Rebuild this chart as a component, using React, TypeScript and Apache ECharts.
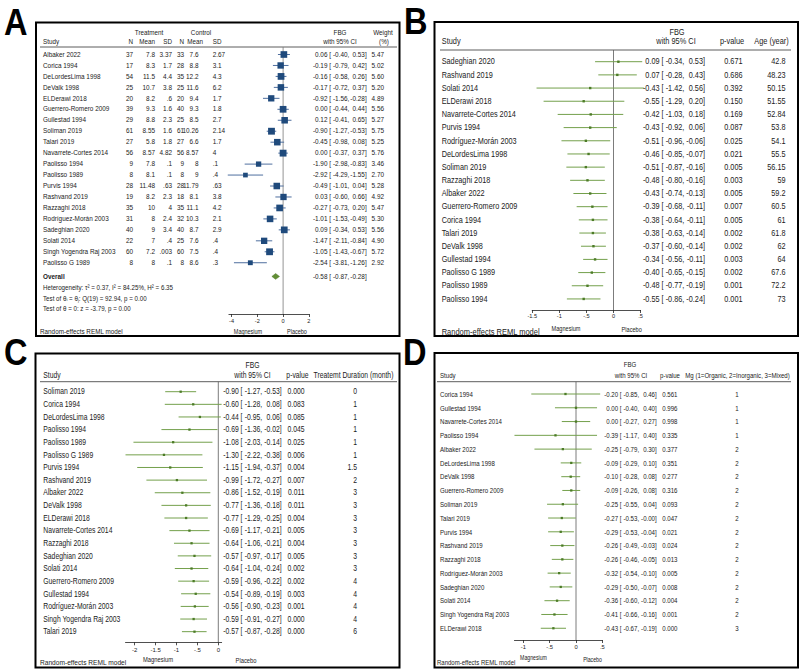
import React, { useEffect, useRef } from "react";
import * as echarts from "echarts";

// ================= Panel A (forest plot, standardized mean difference) =================
const studiesA = ["Albaker 2022", "Corica 1994", "DeLordesLima 1998", "DeValk 1998", "ELDerawi 2018", "Guerrero-Romero 2009", "Gullestad 1994", "Soliman 2019", "Talari 2019", "Navarrete-Cortes 2014", "Paolisso 1994", "Paolisso 1989", "Purvis 1994", "Rashvand 2019", "Razzaghi 2018", "Rodríguez-Morán 2003", "Sadeghian 2020", "Solati 2014", "Singh Yogendra Raj 2003", "Paolisso G 1989"];
const nT = [37, 17, 54, 25, 20, 39, 29, 61, 27, 56, 9, 8, 28, 19, 35, 31, 40, 22, 60, 8];
const meanT = [7.8, 8.3, 11.5, 10.7, 8.2, 9.3, 8.8, 8.55, 5.8, 8.57, 7.8, 8.1, 11.48, 8.2, 10, 8, 9, 7, 7.2, 8];
const sdT = [3.37, 1.7, 4.4, 3.8, 0.6, 1.6, 2.3, 1.6, 1.8, 4.82, 0.1, 0.1, 0.63, 2.3, 4, 2.4, 3.4, 0.4, 0.003, 0.1];
const nC = [33, 28, 35, 25, 20, 40, 25, 61, 27, 56, 9, 8, 28, 18, 35, 32, 40, 25, 60, 8];
const meanC = [7.6, 8.8, 12.2, 11.6, 9.4, 9.3, 8.5, 10.26, 6.6, 8.57, 8, 9, 11.79, 8.1, 11.1, 10.3, 8.7, 7.6, 7.5, 8.6];
const sdC = [2.67, 3.1, 4.3, 6.2, 1.7, 1.8, 2.7, 2.14, 1.7, 4, 0.1, 0.4, 0.63, 3.8, 4.2, 2.1, 2.9, 0.4, 0.4, 0.3];
const esA = [0.06, -0.19, -0.16, -0.17, -0.92, 0.0, 0.12, -0.9, -0.45, 0.0, -1.9, -2.92, -0.49, 0.03, -0.27, -1.01, 0.09, -1.47, -1.05, -2.54];
const loA = [-0.4, -0.79, -0.58, -0.72, -1.56, -0.44, -0.41, -1.27, -0.98, -0.37, -2.98, -4.29, -1.01, -0.6, -0.73, -1.53, -0.34, -2.11, -1.43, -3.81];
const hiA = [0.53, 0.42, 0.26, 0.37, -0.28, 0.44, 0.65, -0.53, 0.08, 0.37, -0.83, -1.55, 0.04, 0.66, 0.2, -0.49, 0.53, -0.84, -0.67, -1.26];
const weightA = [5.47, 5.02, 5.6, 5.2, 4.89, 5.56, 5.27, 5.75, 5.25, 5.76, 3.46, 2.7, 5.28, 4.92, 5.47, 5.3, 5.56, 4.9, 5.72, 2.92];
const overallA = [-0.58, -0.87, -0.28];
const hetLinesA = [
  "Heterogeneity: τ² = 0.37, I² = 84.25%, H² = 6.35",
  "Test of θᵢ = θⱼ: Q(19) = 92.94, p = 0.00",
  "Test of θ = 0: z = -3.79, p = 0.00",
];
const ticksA = [-4, -2, 0, 2];

// ================= Panel B (by age) =================
const studiesB = ["Sadeghian 2020", "Rashvand 2019", "Solati 2014", "ELDerawi 2018", "Navarrete-Cortes 2014", "Purvis 1994", "Rodríguez-Morán 2003", "DeLordesLima 1998", "Soliman 2019", "Razzaghi 2018", "Albaker 2022", "Guerrero-Romero 2009", "Corica 1994", "Talari 2019", "DeValk 1998", "Gullestad 1994", "Paolisso G 1989", "Paolisso 1989", "Paolisso 1994"];
const esB = [0.09, 0.07, -0.43, -0.55, -0.42, -0.43, -0.51, -0.46, -0.51, -0.48, -0.43, -0.39, -0.38, -0.38, -0.37, -0.34, -0.4, -0.48, -0.55];
const loB = [-0.34, -0.28, -1.42, -1.29, -1.03, -0.92, -0.96, -0.85, -0.87, -0.8, -0.74, -0.68, -0.64, -0.63, -0.6, -0.56, -0.65, -0.77, -0.86];
const hiB = [0.53, 0.43, 0.56, 0.2, 0.18, 0.06, -0.06, -0.07, -0.16, -0.16, -0.13, -0.11, -0.11, -0.14, -0.14, -0.11, -0.15, -0.19, -0.24];
const pB = [0.671, 0.686, 0.392, 0.15, 0.169, 0.087, 0.025, 0.021, 0.005, 0.003, 0.005, 0.007, 0.005, 0.002, 0.002, 0.003, 0.002, 0.001, 0.001];
const ageB = [42.8, 48.23, 50.15, 51.55, 52.84, 53.8, 54.1, 55.5, 56.15, 59, 59.2, 60.5, 61, 61.8, 62, 64, 67.6, 72.2, 73];
const ticksB = [-1.5, -1, -0.5, 0, 0.5];

// ================= Panel C (by treatment duration) =================
const studiesC = ["Soliman 2019", "Corica 1994", "DeLordesLima 1998", "Paolisso 1994", "Paolisso 1989", "Paolisso G 1989", "Purvis 1994", "Rashvand 2019", "Albaker 2022", "DeValk 1998", "ELDerawi 2018", "Navarrete-Cortes 2014", "Razzaghi 2018", "Sadeghian 2020", "Solati 2014", "Guerrero-Romero 2009", "Gullestad 1994", "Rodríguez-Morán 2003", "Singh Yogendra Raj 2003", "Talari 2019"];
const esC = [-0.9, -0.6, -0.44, -0.69, -1.08, -1.3, -1.15, -0.99, -0.86, -0.77, -0.77, -0.69, -0.64, -0.57, -0.64, -0.59, -0.54, -0.56, -0.59, -0.57];
const loC = [-1.27, -1.28, -0.95, -1.36, -2.03, -2.22, -1.94, -1.72, -1.52, -1.36, -1.29, -1.17, -1.06, -0.97, -1.04, -0.96, -0.89, -0.9, -0.91, -0.87];
const hiC = [-0.53, 0.08, 0.06, -0.02, -0.14, -0.38, -0.37, -0.27, -0.19, -0.18, -0.25, -0.21, -0.21, -0.17, -0.24, -0.22, -0.19, -0.23, -0.27, -0.28];
const pC = [0.0, 0.083, 0.085, 0.045, 0.025, 0.006, 0.004, 0.007, 0.011, 0.011, 0.004, 0.005, 0.004, 0.005, 0.002, 0.002, 0.003, 0.001, 0.0, 0.0];
const durationC = [0, 1, 1, 1, 1, 1, 1.5, 2, 3, 3, 3, 3, 3, 3, 3, 4, 4, 4, 4, 6];
const ticksC = [-2, -1.5, -1, -0.5, 0];

// ================= Panel D (by magnesium type) =================
const studiesD = ["Corica 1994", "Gullestad 1994", "Navarrete-Cortes 2014", "Paolisso 1994", "Albaker 2022", "DeLordesLima 1998", "DeValk 1998", "Guerrero-Romero 2009", "Soliman 2019", "Talari 2019", "Purvis 1994", "Rashvand 2019", "Razzaghi 2018", "Rodríguez-Morán 2003", "Sadeghian 2020", "Solati 2014", "Singh Yogendra Raj 2003", "ELDerawi 2018"];
const esD = [-0.2, 0.0, 0.0, -0.39, -0.25, -0.09, -0.1, -0.09, -0.25, -0.27, -0.29, -0.26, -0.26, -0.32, -0.29, -0.36, -0.41, -0.43];
const loD = [-0.85, -0.4, -0.27, -1.17, -0.79, -0.29, -0.28, -0.26, -0.55, -0.53, -0.53, -0.49, -0.46, -0.54, -0.5, -0.6, -0.66, -0.67];
const hiD = [0.46, 0.4, 0.27, 0.4, 0.3, 0.1, 0.08, 0.08, 0.04, -0.004, -0.04, -0.03, -0.05, -0.1, -0.07, -0.12, -0.16, -0.19];
const pD = [0.561, 0.996, 0.998, 0.335, 0.377, 0.351, 0.277, 0.316, 0.093, 0.047, 0.021, 0.024, 0.013, 0.005, 0.008, 0.004, 0.001, 0.0];
const mgD = [1, 1, 1, 1, 2, 2, 2, 2, 2, 2, 2, 2, 2, 2, 2, 2, 2, 3];
const ticksD = [-1, -0.5, 0, 0.5];

// ================= styling / layout =================
const INK = "#1b1b1b";
const BLUE_M = "#1f4a7c";
const BLUE_L = "#4f6f9f";
const GREEN_M = "#4c7b26";
const GREEN_L = "#74a04c";
const DIAMOND = "#628f34";
const WIDE = "'Liberation Sans', Arial, Helvetica, sans-serif";

function hasFont(name: string) {
  try {
    const c = document.createElement("canvas").getContext("2d");
    if (!c) return false;
    const s = "Albaker 2022 mmmWWWiii";
    c.font = "40px monospace";
    const a = c.measureText(s).width;
    c.font = `40px '${name}', monospace`;
    const b = c.measureText(s).width;
    return Math.abs(a - b) > 0.5;
  } catch (e) {
    return false;
  }
}

const f2 = (v: number) => v.toFixed(2);
const num = (v: number) => String(v).replace(/^0\./, ".");
const tickFmt = (v: number) => String(v).replace(/^(-?)0\./, "$1.");

type Lay = { row0: number; dy: number; top: number; bottom: number; xmin: number; xmax: number; zeroX: number; ppu: number };
const LAY: Record<string, Lay> = {
  A: { row0: 54.5, dy: 10.96, top: 47, bottom: 314, xmin: -4.2, xmax: 2, zeroX: 283.1, ppu: 12.9 },
  B: { row0: 61.7, dy: 13.18, top: 50, bottom: 310, xmin: -1.5, xmax: 0.5, zeroX: 613.5, ppu: 54.2 },
  C: { row0: 391.7, dy: 12.63, top: 381.7, bottom: 642.3, xmin: -2.22, xmax: 0.08, zeroX: 218.3, ppu: 41.8 },
  D: { row0: 394, dy: 13.78, top: 381.7, bottom: 640, xmin: -1.17, xmax: 0.5, zeroX: 576, ppu: 52.6 },
};
const OVERALL_ROW = 20.25;

function buildOption() {
  const narrow = hasFont("Liberation Sans Narrow");
  const FAM = narrow ? "'Liberation Sans Narrow', 'Liberation Sans', Arial, sans-serif" : WIDE;
  // narrow look: either a narrow face, or the regular face squeezed horizontally
  const SX = narrow ? 1 : 0.82;
  const K = 1 / 0.82;
  const FS = (a: number) => Math.round(a * K * 100) / 100;

  const T = (x: number, y: number, text: string, size: number, align = "left", weight = "normal", fam = FAM, fill = INK, sx = SX) => ({
    type: "text",
    x,
    y,
    scaleX: sx,
    scaleY: 1,
    originX: 0,
    originY: 0,
    silent: true,
    style: { text, fontSize: size, fontFamily: fam, fontWeight: weight, fill, align, verticalAlign: "middle", textAlign: align, textVerticalAlign: "middle" },
  });
  const L = (x1: number, y1: number, x2: number, y2: number, stroke: string, w: number) => ({
    type: "line",
    silent: true,
    shape: { x1, y1, x2, y2 },
    style: { stroke, lineWidth: w },
  });
  const box = (x1: number, y1: number, x2: number, y2: number) => ({
    type: "rect",
    silent: true,
    shape: { x: x1, y: y1, width: x2 - x1, height: y2 - y1 },
    style: { fill: "none", stroke: "#000", lineWidth: 2 },
    z: 10,
  });

  const keys = ["A", "B", "C", "D"];
  const ticks: Record<string, number[]> = { A: ticksA, B: ticksB, C: ticksC, D: ticksD };
  const tickFs: Record<string, number> = { A: 5.6, B: 5.6, C: 6.0, D: 5.8 };
  const tickMargin: Record<string, number> = { A: 3.5, B: 3, C: 4.5, D: 4 };

  const grid = keys.map((k) => {
    const l = LAY[k];
    return { left: l.zeroX + l.xmin * l.ppu, width: (l.xmax - l.xmin) * l.ppu, top: l.top, height: l.bottom - l.top, containLabel: false };
  });
  const xAxis = keys.map((k, i) => {
    const l = LAY[k];
    return {
      type: "value",
      gridIndex: i,
      min: l.xmin,
      max: l.xmax,
      axisLine: { show: true, onZero: false, lineStyle: { color: "#222", width: 0.8 } },
      axisTick: { show: true, length: 3, lineStyle: { color: "#222", width: 0.8 }, customValues: ticks[k] },
      axisLabel: { customValues: ticks[k], formatter: tickFmt, fontSize: tickFs[k], fontFamily: WIDE, color: INK, margin: tickMargin[k] },
      splitLine: { show: false },
    };
  });
  const yMin = (k: string) => (LAY[k].top - LAY[k].row0) / LAY[k].dy;
  const yMax = (k: string) => (LAY[k].bottom - LAY[k].row0) / LAY[k].dy;
  const yAxis = keys.map((k, i) => ({ type: "value", gridIndex: i, inverse: true, min: yMin(k), max: yMax(k), show: false }));

  const zeroSeries = keys.map((k, i) => ({
    type: "line",
    xAxisIndex: i,
    yAxisIndex: i,
    data: [
      [0, yMin(k)],
      [0, yMax(k)],
    ],
    symbol: "none",
    silent: true,
    z: 1,
    lineStyle: { color: k === "A" ? "#7a7a7a" : "#5a5a5a", width: 0.8 },
  }));

  // ---- Panel A renderer ----
  const fA = FS(6.4);
  const renderA = (params: any, api: any) => {
    const i = params.dataIndex;
    const row = api.value(1);
    const a = api.coord([loA[i], row]);
    const b = api.coord([hiA[i], row]);
    const m = api.coord([esA[i], row]);
    const y = m[1];
    const s = 2.85 * Math.sqrt(weightA[i]);
    return {
      type: "group",
      children: [
        L(a[0], y, b[0], y, BLUE_L, 1),
        { type: "rect", shape: { x: m[0] - s / 2, y: y - s / 2, width: s, height: s }, style: { fill: BLUE_M } },
        T(43, y, studiesA[i], fA),
        T(133, y, String(nT[i]), fA, "right"),
        T(155, y, num(meanT[i]), fA, "right"),
        T(172, y, num(sdT[i]), fA, "right"),
        T(184, y, String(nC[i]), fA, "right"),
        T(198.5, y, num(meanC[i]), fA, "right"),
        T(212.7, y, num(sdC[i]), fA, "left"),
        T(331, y, f2(esA[i]) + " [", fA, "right"),
        T(349.3, y, f2(loA[i]) + ",", fA, "right"),
        T(366.7, y, f2(hiA[i]) + "]", fA, "right"),
        T(384, y, weightA[i].toFixed(2), fA, "right"),
      ],
    };
  };
  const renderOverall = (params: any, api: any) => {
    const row = api.value(1);
    const a = api.coord([overallA[1], row]);
    const b = api.coord([overallA[2], row]);
    const m = api.coord([overallA[0], row]);
    const y = m[1];
    const h = 2.9;
    return {
      type: "group",
      children: [
        { type: "polygon", shape: { points: [[a[0], y], [m[0], y - h], [b[0], y], [m[0], y + h]] }, style: { fill: DIAMOND, stroke: "#4d7526", lineWidth: 0.5 } },
        T(43, y, "Overall", fA, "left", "bold"),
        T(331, y, f2(overallA[0]) + " [", fA, "right"),
        T(349.3, y, f2(overallA[1]) + ",", fA, "right"),
        T(366.7, y, f2(overallA[2]) + "]", fA, "right"),
      ],
    };
  };

  // ---- generic renderer for B, C, D ----
  type Cols = { studyX: number; esX: number; loX: number; hiX: number; pX: number; lastX: number; lastAlign: string; fs: number; mk: number };
  const makeRender = (st: string[], es: number[], lo: number[], hi: number[], p: number[], last: number[], c: Cols) => (params: any, api: any) => {
    const i = params.dataIndex;
    const row = api.value(1);
    const a = api.coord([lo[i], row]);
    const b = api.coord([hi[i], row]);
    const m = api.coord([es[i], row]);
    const y = m[1];
    const s = c.mk;
    return {
      type: "group",
      children: [
        L(a[0], y, b[0], y, GREEN_L, 1),
        { type: "rect", shape: { x: m[0] - s / 2, y: y - s / 2, width: s, height: s }, style: { fill: GREEN_M } },
        T(c.studyX, y, st[i], c.fs),
        T(c.esX, y, f2(es[i]) + " [", c.fs, "right"),
        T(c.loX, y, f2(lo[i]) + ",", c.fs, "right"),
        T(c.hiX, y, f2(hi[i]) + "]", c.fs, "right"),
        T(c.pX, y, p[i].toFixed(3), c.fs, "right"),
        T(c.lastX, y, String(last[i]), c.fs, c.lastAlign),
      ],
    };
  };
  const fB = FS(7.3);
  const fC = FS(6.8);
  const fD = FS(6.1);
  const renderB = makeRender(studiesB, esB, loB, hiB, pB, ageB, { studyX: 441.7, esX: 663.6, loX: 684.3, hiX: 705, pX: 742.5, lastX: 785.5, lastAlign: "right", fs: fB, mk: 2.4 });
  const renderC = makeRender(studiesC, esC, loC, hiC, pC, durationC, { studyX: 43.3, esX: 242.5, loX: 262.1, hiX: 281.7, pX: 304.5, lastX: 357, lastAlign: "right", fs: fC, mk: 2.3 });
  const renderD = makeRender(studiesD, esD, loD, hiD, pD, mgD, { studyX: 440, esX: 621.5, loX: 639.1, hiX: 656.7, pX: 677.5, lastX: 737, lastAlign: "center", fs: fD, mk: 2.3 });

  const custom = (idx: number, data: number[][], renderItem: any) => ({
    type: "custom",
    xAxisIndex: idx,
    yAxisIndex: idx,
    coordinateSystem: "cartesian2d",
    clip: false,
    silent: true,
    z: 3,
    encode: { x: 0, y: 1 },
    data,
    renderItem,
  });

  const series: any[] = [
    ...zeroSeries,
    custom(0, studiesA.map((_, i) => [esA[i], i]), renderA),
    custom(0, [[overallA[0], OVERALL_ROW]], renderOverall),
    custom(1, studiesB.map((_, i) => [esB[i], i]), renderB),
    custom(2, studiesC.map((_, i) => [esC[i], i]), renderC),
    custom(3, studiesD.map((_, i) => [esD[i], i]), renderD),
  ];

  // ---- static graphics ----
  const g: any[] = [];
  g.push(box(36, 22.5, 399.5, 336));
  g.push(box(434.5, 22, 798, 336));
  g.push(box(35.5, 353.5, 399.5, 667.5));
  g.push(box(434.5, 353, 798, 667.5));
  g.push(T(4, 22, "A", 37, "left", "bold", WIDE, "#000", 0.88));
  g.push(T(404, 21, "B", 37, "left", "bold", WIDE, "#000", 0.88));
  g.push(T(4, 352, "C", 37, "left", "bold", WIDE, "#000", 0.88));
  g.push(T(403, 352, "D", 37, "left", "bold", WIDE, "#000", 0.88));

  // header underlines
  g.push(L(40, 47, 397, 47, "#333", 0.8));
  g.push(L(440, 50, 791, 50, "#333", 0.8));
  g.push(L(40, 381.7, 397, 381.7, "#333", 0.8));
  g.push(L(437, 381.7, 791, 381.7, "#333", 0.8));

  // Panel A headers
  const hA = FS(6.3);
  g.push(T(149, 32, "Treatment", hA, "center"));
  g.push(T(201, 32, "Control", hA, "center"));
  g.push(T(340, 32, "FBG", hA, "center"));
  g.push(T(340, 41, "with 95% CI", hA, "center"));
  g.push(T(383, 32, "Weight", hA, "center"));
  g.push(T(384, 41, "(%)", hA, "center"));
  g.push(T(43, 41, "Study", hA));
  g.push(T(133, 41, "N", hA, "right"));
  g.push(T(155, 41, "Mean", hA, "right"));
  g.push(T(172, 41, "SD", hA, "right"));
  g.push(T(184, 41, "N", hA, "right"));
  g.push(T(203, 41, "Mean", hA, "right"));
  g.push(T(212.7, 41, "SD", hA, "left"));
  hetLinesA.forEach((s, i) => g.push(T(43, [287, 298, 308.7][i], s, FS(6.2))));
  g.push(T(40, 331.7, "Random-effects REML model", FS(6.35)));
  g.push(T(248, 331, "Magnesium", FS(5.5), "center"));
  g.push(T(297, 331, "Placebo", FS(5.5), "center"));

  // Panel B headers
  const hB = FS(7.4);
  g.push(T(677, 32.3, "FBG", hB, "center"));
  g.push(T(676, 41, "with 95% CI", hB, "center"));
  g.push(T(732, 41, "p-value", hB, "center"));
  g.push(T(771.5, 41, "Age (year)", hB, "center"));
  g.push(T(441.7, 41.5, "Study", hB));
  g.push(T(441.7, 331.7, "Random-effects REML model", FS(7.5)));
  g.push(T(566, 328.5, "Magnesium", FS(5.6), "center"));
  g.push(T(631.7, 329.5, "Placebo", FS(5.6), "center"));

  // Panel C headers
  const hC = FS(6.8);
  g.push(T(252.5, 365, "FBG", hC, "center"));
  g.push(T(252.5, 375, "with 95% CI", hC, "center"));
  g.push(T(297.5, 375, "p-value", hC, "center"));
  g.push(T(353.5, 375, "Treatemt Duration (month)", hC, "center"));
  g.push(T(43.3, 375, "Study", hC));
  g.push(T(40, 662, "Random-effects REML model", FS(6.6)));
  g.push(T(158, 659, "Magnesium", FS(5.8), "center"));
  g.push(T(246, 660, "Placebo", FS(5.8), "center"));

  // Panel D headers
  const hD = FS(6.1);
  g.push(T(630, 364, "FBG", hD, "center"));
  g.push(T(631, 375.5, "with 95% CI", hD, "center"));
  g.push(T(670, 375.5, "p-value", hD, "center"));
  g.push(T(737.5, 375.5, "Mg (1=Organic, 2=Inorganic, 3=Mixed)", hD, "center"));
  g.push(T(440, 375.5, "Study", hD));
  g.push(T(437, 662, "Random-effects REML model", FS(6.0)));
  g.push(T(533.5, 658, "Magnesium", FS(5.2), "center"));
  g.push(T(592.5, 660, "Placebo", FS(5.2), "center"));

  return {
    animation: false,
    backgroundColor: "#ffffff",
    grid,
    xAxis,
    yAxis,
    series,
    graphic: { elements: g },
  };
}

export default function App() {
  const ref = useRef<HTMLDivElement>(null);
  useEffect(() => {
    document.body.style.margin = "0";
    const chart = echarts.init(ref.current as HTMLDivElement, null, { renderer: "svg" });
    chart.setOption(buildOption() as any);
    return () => chart.dispose();
  }, []);
  return <div ref={ref} style={{ position: "absolute", left: 0, top: 0, width: 800, height: 670, background: "#fff" }} />;
}
